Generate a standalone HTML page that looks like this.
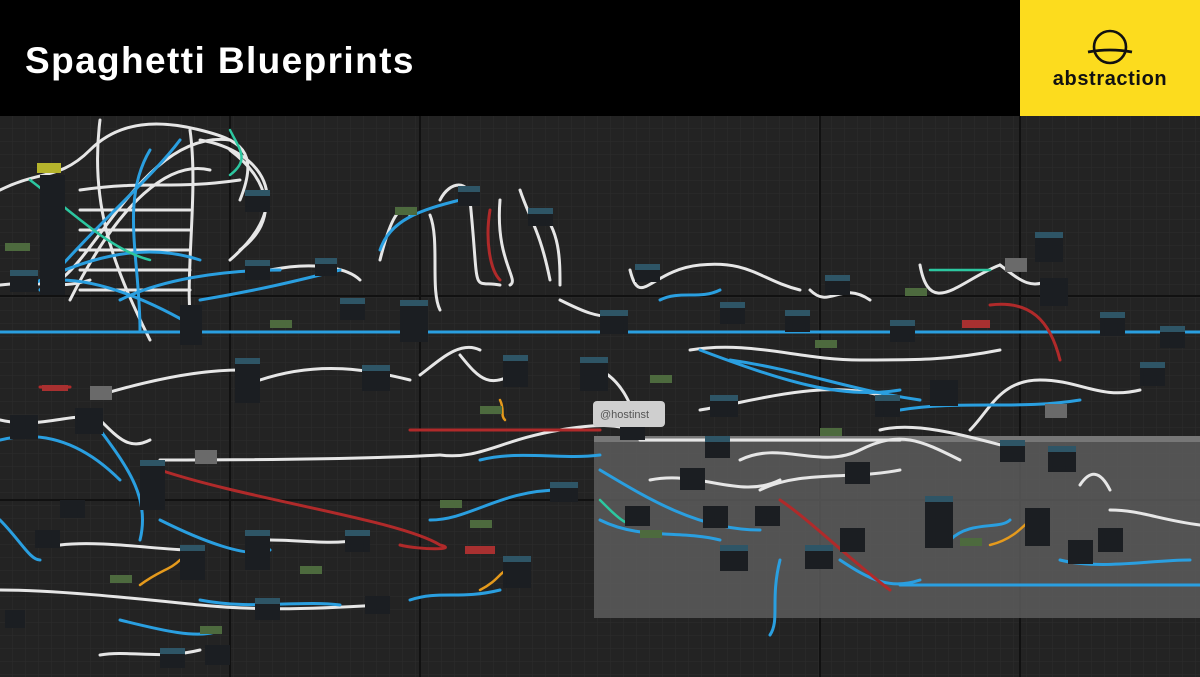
<!DOCTYPE html>
<html><head><meta charset="utf-8"><style>
body{margin:0;width:1200px;height:677px;overflow:hidden;background:#222;font-family:"Liberation Sans",sans-serif}
#hdr{position:absolute;left:0;top:0;width:1200px;height:116px;background:#000}
#title{position:absolute;left:25px;top:40px;color:#fff;font-size:37px;font-weight:bold;letter-spacing:1.4px}
#logo{position:absolute;left:1020px;top:0;width:180px;height:116px;background:#fcdc1e}
#logo span{position:absolute;left:0;width:180px;top:68px;text-align:center;font-size:20px;font-weight:bold;color:#111;letter-spacing:0.6px}
svg{position:absolute;left:0;top:116px}
</style></head><body>
<svg width="1200" height="561" viewBox="0 116 1200 561">
<defs>
<pattern id="g" width="13" height="13" patternUnits="userSpaceOnUse" x="0" y="116"><path d="M13 0V13H0" fill="none" stroke="#2c2c2c" stroke-width="1"/></pattern>
</defs>
<rect x="0" y="116" width="1200" height="561" fill="#232323"/>
<rect x="0" y="116" width="1200" height="561" fill="url(#g)"/>
<g stroke="#111" stroke-width="2"><path d="M230 116V677M420 116V677M820 116V677M1020 116V677M0 296H1200M0 500H1200"/></g>
<rect x="594" y="436" width="606" height="182" fill="#5c5c5c" opacity="0.85"/>
<rect x="594" y="436" width="606" height="6" fill="#777"/>
<g fill="none" stroke-linecap="round">
<g stroke="#e6e6e6" stroke-width="3">
<path d="M0 190C40 170 60 180 90 150S160 120 200 130 260 150 240 200"/>
<path d="M60 280C100 250 150 130 230 140"/><path d="M70 300C120 200 170 160 210 170"/>
<path d="M80 190C150 180 170 190 240 180"/><path d="M80 210H190M80 230H190M80 250H190M80 270H190M80 290H190"/>
<path d="M100 120C90 200 110 260 150 340"/><path d="M190 130C200 200 180 300 195 340"/>
<path d="M200 140C260 150 300 200 230 260"/><path d="M230 150C270 180 280 220 240 250"/>
<path d="M270 270C320 260 350 270 360 280"/><path d="M0 285C40 280 60 290 90 280"/>
<path d="M380 260C390 220 400 200 410 215"/><path d="M430 215C440 240 430 290 440 310"/>
<path d="M440 200C450 180 470 180 470 200 480 300 470 280 500 285"/>
<path d="M500 200C495 260 520 280 510 285"/><path d="M520 190C530 220 540 230 550 280"/>
<path d="M540 210C560 230 560 260 560 285"/><path d="M560 300C580 310 600 320 620 315"/>
<path d="M630 270C640 310 650 270 700 265S760 280 800 290"/><path d="M810 290C830 310 840 280 870 300"/>
<path d="M920 265C930 320 960 280 1000 265"/><path d="M1000 265C1020 280 1030 290 1050 280"/>
<path d="M260 380C320 360 370 370 410 380"/><path d="M100 395C150 380 200 370 240 370"/>
<path d="M420 375C440 360 460 340 480 350"/><path d="M460 355C480 380 490 390 520 370"/>
<path d="M600 370C620 380 630 400 640 430"/><path d="M0 420C40 430 80 410 90 420"/>
<path d="M100 420C120 440 130 450 150 440"/><path d="M160 460C200 460 350 460 440 455"/>
<path d="M440 455C480 460 500 440 560 430S620 430 640 430"/><path d="M640 440H900"/>
<path d="M690 350C750 340 800 360 860 360S950 360 1000 350"/><path d="M700 410C760 400 820 380 880 395"/>
<path d="M740 460C780 440 820 470 860 450S920 440 960 460"/><path d="M760 490C800 470 850 480 900 470"/>
<path d="M880 430C920 420 980 440 1020 450"/><path d="M650 480C700 470 740 500 780 480"/>
<path d="M60 545C100 540 160 550 190 550"/><path d="M270 540C300 540 330 545 360 540"/>
<path d="M0 590C60 590 150 600 200 605S300 610 380 605"/><path d="M100 655C130 650 160 660 200 650"/>
<path d="M1080 485C1090 470 1100 470 1110 490"/><path d="M1110 510C1140 510 1160 520 1200 525"/>
<path d="M970 430C990 410 1000 380 1040 380S1100 400 1140 390"/>
</g>
<g stroke="#2a9fe0" stroke-width="3">
<path d="M0 332H1200"/><path d="M20 290C80 260 140 240 200 260"/>
<path d="M40 290C100 220 150 180 180 140"/><path d="M60 280C100 280 150 300 200 330"/>
<path d="M120 300C160 280 220 270 280 270"/><path d="M150 150C120 200 140 260 140 330"/>
<path d="M200 300C260 290 300 280 340 270"/><path d="M380 250C390 220 420 210 460 200"/>
<path d="M0 440C40 430 80 440 120 480"/><path d="M100 430C130 470 150 500 140 540"/>
<path d="M160 520C200 540 250 560 270 550"/><path d="M0 520C20 540 30 560 40 560"/>
<path d="M200 600C250 610 300 600 340 605"/><path d="M120 620C160 630 200 640 220 630"/>
<path d="M410 600C440 590 460 600 500 590"/><path d="M430 520C470 520 500 490 560 490"/>
<path d="M600 470C650 500 700 530 760 530"/><path d="M700 350C780 380 840 400 900 390"/>
<path d="M730 360C800 370 850 390 920 400"/><path d="M900 410C960 400 1020 410 1080 400"/>
<path d="M780 560C770 600 780 620 770 635"/><path d="M840 560C870 580 890 590 920 580"/>
<path d="M900 585H1200"/><path d="M1060 560C1100 570 1150 560 1190 560"/>
<path d="M600 520C640 540 680 530 720 540"/><path d="M950 540C970 520 1000 530 1010 520"/>
<path d="M660 300C680 290 700 300 720 290"/><path d="M480 460C520 450 560 460 600 455"/>
</g>
<g stroke="#b02a2a" stroke-width="3">
<path d="M160 470C250 500 400 520 440 545 460 550 420 550 400 545"/>
<path d="M410 430H600"/><path d="M990 305C1030 300 1050 320 1060 360"/>
<path d="M490 210C485 240 490 270 500 280"/><path d="M780 500C810 520 850 560 890 590"/>
<path d="M40 387H70"/>
</g>
<g stroke="#2cc7a0" stroke-width="2.5">
<path d="M230 130C240 150 250 160 230 175"/><path d="M30 180C70 210 110 250 150 260"/>
<path d="M930 270H990"/><path d="M600 500C620 520 630 530 640 520"/>
</g>
<g stroke="#e59a1c" stroke-width="2.5"><path d="M140 585C160 570 170 570 180 560"/><path d="M990 545C1010 540 1020 530 1030 520"/><path d="M480 590C500 580 500 570 510 570"/><path d="M500 400C505 410 500 415 505 420"/></g>
</g>
<g fill="#1b1e22">
<rect x="10" y="270" width="28" height="22"/><rect x="40" y="175" width="25" height="120"/>
<rect x="180" y="305" width="22" height="40"/><rect x="245" y="190" width="25" height="22"/>
<rect x="245" y="260" width="25" height="20"/><rect x="315" y="258" width="22" height="18"/>
<rect x="340" y="298" width="25" height="22"/><rect x="400" y="300" width="28" height="42"/>
<rect x="458" y="186" width="22" height="20"/><rect x="528" y="208" width="25" height="18"/>
<rect x="600" y="310" width="28" height="24"/><rect x="635" y="264" width="25" height="18"/>
<rect x="720" y="302" width="25" height="22"/><rect x="785" y="310" width="25" height="22"/>
<rect x="825" y="275" width="25" height="20"/><rect x="890" y="320" width="25" height="22"/>
<rect x="1035" y="232" width="28" height="30"/><rect x="1040" y="278" width="28" height="28"/>
<rect x="1100" y="312" width="25" height="24"/><rect x="1160" y="326" width="25" height="22"/>
<rect x="235" y="358" width="25" height="45"/><rect x="362" y="365" width="28" height="26"/>
<rect x="503" y="355" width="25" height="32"/><rect x="580" y="357" width="28" height="34"/>
<rect x="710" y="395" width="28" height="22"/><rect x="875" y="395" width="25" height="22"/>
<rect x="930" y="380" width="28" height="26"/><rect x="1140" y="362" width="25" height="24"/>
<rect x="10" y="415" width="28" height="24"/><rect x="75" y="408" width="28" height="26"/>
<rect x="140" y="460" width="25" height="50"/><rect x="60" y="500" width="25" height="18"/>
<rect x="35" y="530" width="25" height="18"/><rect x="180" y="545" width="25" height="35"/>
<rect x="245" y="530" width="25" height="40"/><rect x="345" y="530" width="25" height="22"/>
<rect x="255" y="598" width="25" height="22"/><rect x="365" y="596" width="25" height="18"/>
<rect x="503" y="556" width="28" height="32"/><rect x="550" y="482" width="28" height="20"/>
<rect x="620" y="420" width="25" height="20"/><rect x="705" y="436" width="25" height="22"/>
<rect x="680" y="468" width="25" height="22"/><rect x="703" y="506" width="25" height="22"/>
<rect x="720" y="545" width="28" height="26"/><rect x="805" y="545" width="28" height="24"/>
<rect x="840" y="528" width="25" height="24"/><rect x="925" y="496" width="28" height="52"/>
<rect x="1025" y="508" width="25" height="38"/><rect x="1048" y="446" width="28" height="26"/>
<rect x="1068" y="540" width="25" height="24"/><rect x="1098" y="528" width="25" height="24"/>
<rect x="1000" y="440" width="25" height="22"/><rect x="845" y="462" width="25" height="22"/>
<rect x="625" y="506" width="25" height="20"/><rect x="755" y="506" width="25" height="20"/>
<rect x="160" y="648" width="25" height="20"/><rect x="205" y="645" width="25" height="20"/>
<rect x="5" y="610" width="20" height="18"/>
</g>
<g fill="#2e5566">
<rect x="10" y="270" width="28" height="6"/><rect x="245" y="190" width="25" height="6"/><rect x="245" y="260" width="25" height="6"/><rect x="315" y="258" width="22" height="6"/><rect x="340" y="298" width="25" height="6"/><rect x="400" y="300" width="28" height="6"/><rect x="458" y="186" width="22" height="6"/><rect x="528" y="208" width="25" height="6"/><rect x="600" y="310" width="28" height="6"/><rect x="635" y="264" width="25" height="6"/><rect x="720" y="302" width="25" height="6"/><rect x="785" y="310" width="25" height="6"/><rect x="825" y="275" width="25" height="6"/><rect x="890" y="320" width="25" height="6"/><rect x="1035" y="232" width="28" height="6"/><rect x="1100" y="312" width="25" height="6"/><rect x="1160" y="326" width="25" height="6"/><rect x="235" y="358" width="25" height="6"/><rect x="362" y="365" width="28" height="6"/><rect x="503" y="355" width="25" height="6"/><rect x="580" y="357" width="28" height="6"/><rect x="710" y="395" width="28" height="6"/><rect x="875" y="395" width="25" height="6"/><rect x="1140" y="362" width="25" height="6"/><rect x="140" y="460" width="25" height="6"/><rect x="180" y="545" width="25" height="6"/><rect x="245" y="530" width="25" height="6"/><rect x="345" y="530" width="25" height="6"/><rect x="255" y="598" width="25" height="6"/><rect x="503" y="556" width="28" height="6"/><rect x="550" y="482" width="28" height="6"/><rect x="620" y="420" width="25" height="6"/><rect x="705" y="436" width="25" height="6"/><rect x="720" y="545" width="28" height="6"/><rect x="805" y="545" width="28" height="6"/><rect x="925" y="496" width="28" height="6"/><rect x="1048" y="446" width="28" height="6"/><rect x="1000" y="440" width="25" height="6"/><rect x="160" y="648" width="25" height="6"/>
</g>
<g fill="#4d6a3e"><rect x="5" y="243" width="25" height="8"/><rect x="395" y="207" width="22" height="8"/><rect x="270" y="320" width="22" height="8"/><rect x="480" y="406" width="22" height="8"/><rect x="440" y="500" width="22" height="8"/><rect x="470" y="520" width="22" height="8"/><rect x="110" y="575" width="22" height="8"/><rect x="300" y="566" width="22" height="8"/><rect x="200" y="626" width="22" height="8"/><rect x="640" y="530" width="22" height="8"/><rect x="960" y="538" width="22" height="8"/><rect x="820" y="428" width="22" height="8"/><rect x="905" y="288" width="22" height="8"/><rect x="815" y="340" width="22" height="8"/><rect x="650" y="375" width="22" height="8"/></g>
<g fill="#6a6a6a"><rect x="90" y="386" width="22" height="14"/><rect x="195" y="450" width="22" height="14"/><rect x="1005" y="258" width="22" height="14"/><rect x="1045" y="404" width="22" height="14"/></g>
<rect x="37" y="163" width="24" height="10" fill="#b5b42c"/>
<g fill="#a83030"><rect x="962" y="320" width="28" height="8"/><rect x="465" y="546" width="30" height="8"/><rect x="42" y="385" width="26" height="6"/></g>
<rect x="593" y="401" width="72" height="26" rx="4" fill="#cfcfcf"/>
<text x="600" y="418" font-family="Liberation Sans,sans-serif" font-size="11" fill="#555">@hostinst</text>
</svg>
<div id="hdr"><div id="title">Spaghetti Blueprints</div></div>
<div id="logo">
<svg width="180" height="70" viewBox="0 0 180 70" style="left:0;top:0">
<circle cx="90" cy="47" r="16" fill="none" stroke="#111" stroke-width="2.6"/>
<path d="M68 52Q90 48 112 52" fill="none" stroke="#111" stroke-width="2.8"/>
</svg>
<span>abstraction</span></div>
</body></html>
